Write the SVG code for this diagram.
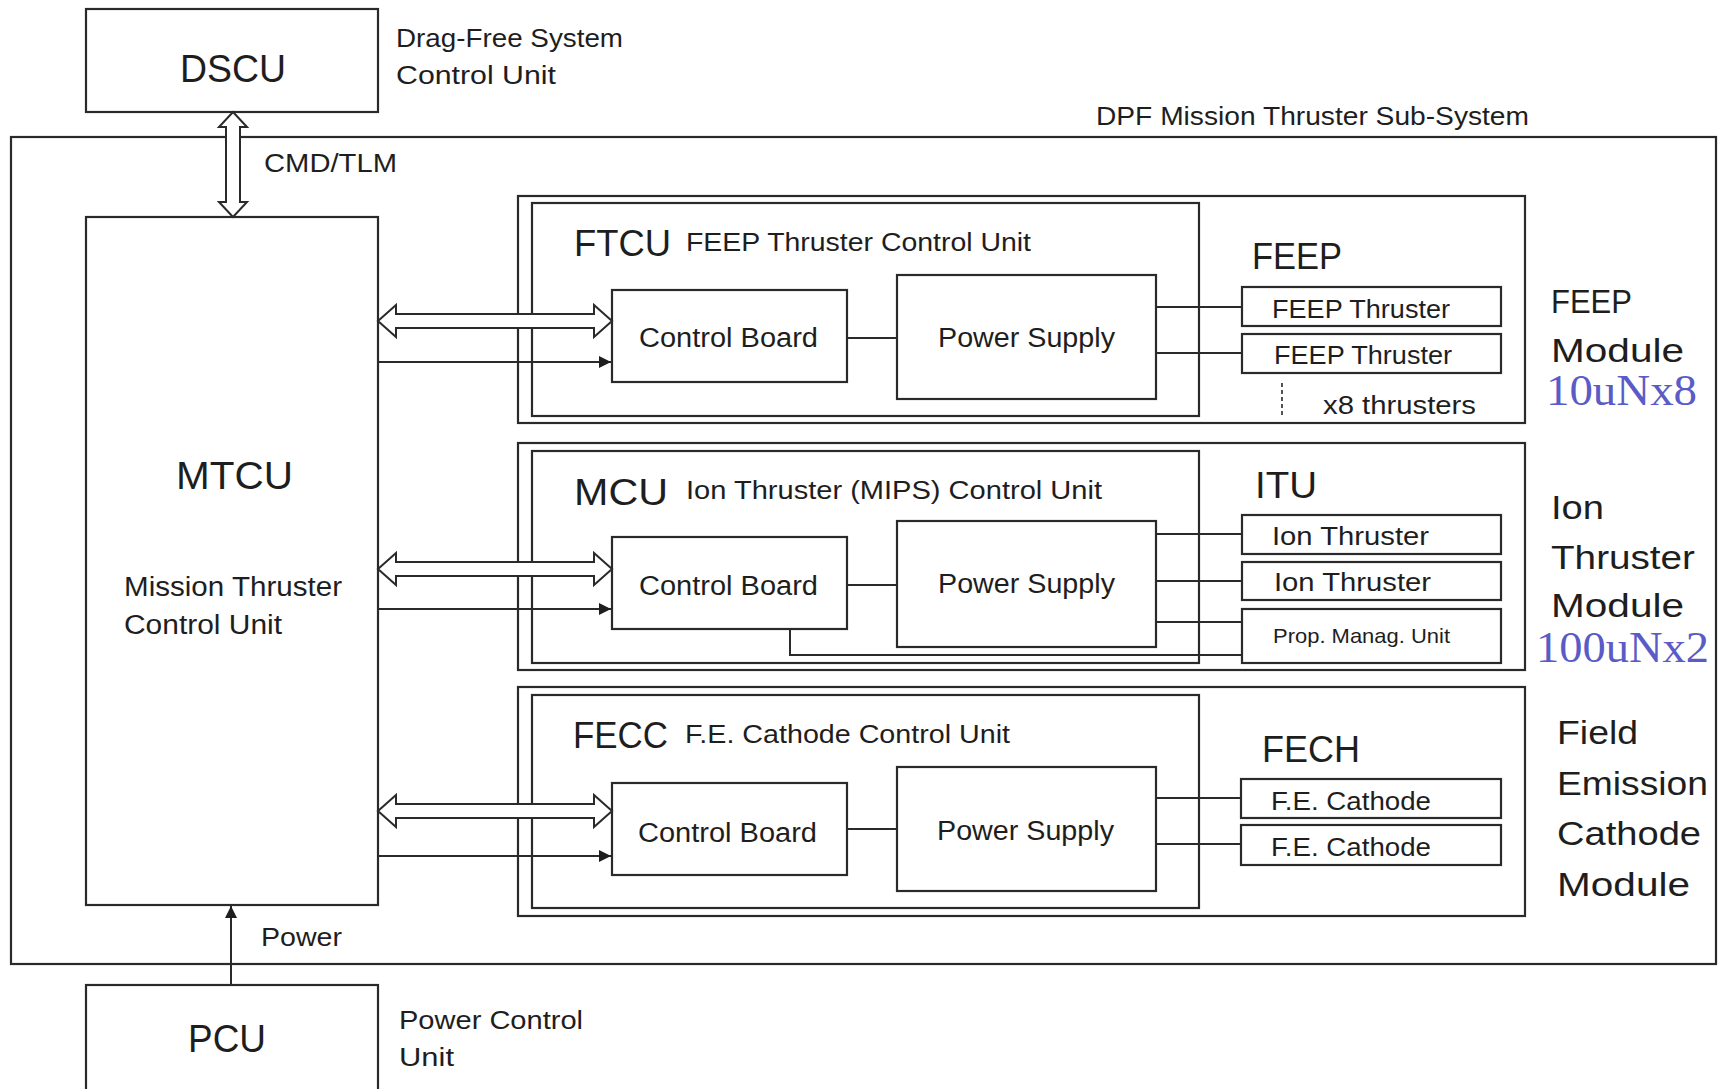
<svg xmlns="http://www.w3.org/2000/svg" width="1725" height="1089" viewBox="0 0 1725 1089">
<defs>
<style>
.b{fill:#fff;stroke:#2a2a2a;stroke-width:2.2}
.f{fill:none;stroke:#2a2a2a;stroke-width:2.2}
.l{fill:none;stroke:#2a2a2a;stroke-width:2}
.h{fill:#fff;stroke:#2a2a2a;stroke-width:2}
.t{font-family:"Liberation Sans",Arial,sans-serif;fill:#1e1e1e}
.s{font-size:26px}
.m{font-size:27px}
.k{font-size:36px}
.g{font-size:38px}
.r{font-size:34px}
.u{font-family:"Liberation Serif","Times New Roman",serif;fill:#5b5bc8;font-size:44px}
</style>
<marker id="ah" viewBox="0 0 12 12" refX="12" refY="6" markerWidth="12" markerHeight="12" markerUnits="userSpaceOnUse" orient="auto">
<path d="M0,0 L12,6 L0,12 Z" fill="#1e1e1e"/>
</marker>
</defs>
<rect width="1725" height="1089" fill="#fff"/>

<g id="frame">
<rect class="f" x="11" y="137" width="1705" height="827"/>
<text class="t s" x="1096" y="125" textLength="433" lengthAdjust="spacingAndGlyphs">DPF Mission Thruster Sub-System</text>
</g>

<g id="dscu">
<rect class="b" x="86" y="9" width="292" height="103"/>
<text class="t g" x="180" y="82" textLength="106" lengthAdjust="spacingAndGlyphs">DSCU</text>
<text class="t s" x="396" y="47" textLength="227" lengthAdjust="spacingAndGlyphs">Drag-Free System</text>
<text class="t s" x="396" y="84" textLength="160" lengthAdjust="spacingAndGlyphs">Control Unit</text>
</g>

<g id="mtcu">
<rect class="b" x="86" y="217" width="292" height="688"/>
<text class="t g" x="176" y="489" textLength="117" lengthAdjust="spacingAndGlyphs">MTCU</text>
<text class="t m" x="124" y="596" textLength="218" lengthAdjust="spacingAndGlyphs">Mission Thruster</text>
<text class="t m" x="124" y="634" textLength="158" lengthAdjust="spacingAndGlyphs">Control Unit</text>
</g>

<g id="pcu">
<rect class="b" x="86" y="985" width="292" height="120"/>
<text class="t g" x="188" y="1052" textLength="78" lengthAdjust="spacingAndGlyphs">PCU</text>
<text class="t s" x="399" y="1029" textLength="184" lengthAdjust="spacingAndGlyphs">Power Control</text>
<text class="t s" x="399" y="1066" textLength="55" lengthAdjust="spacingAndGlyphs">Unit</text>
</g>

<!-- FEEP module -->
<g id="feep-module">
<rect class="b" x="518" y="196" width="1007" height="227"/>
<text class="t r" x="1551" y="313" textLength="81" lengthAdjust="spacingAndGlyphs">FEEP</text>
<text class="t r" x="1551" y="362" textLength="133" lengthAdjust="spacingAndGlyphs">Module</text>
<text class="u" x="1546" y="405" textLength="151" lengthAdjust="spacingAndGlyphs">10uNx8</text>
</g>
<g id="ftcu">
<rect class="f" x="532" y="203" width="667" height="213"/>
<text class="t k" x="574" y="256" textLength="97" lengthAdjust="spacingAndGlyphs">FTCU</text>
<text class="t" style="font-size:25px" x="686" y="251" textLength="345" lengthAdjust="spacingAndGlyphs">FEEP Thruster Control Unit</text>
</g>
<g id="ftcu-cb">
<rect class="b" x="612" y="290" width="235" height="92"/>
<text class="t m" x="639" y="347" textLength="179" lengthAdjust="spacingAndGlyphs">Control Board</text>
</g>
<g id="ftcu-ps">
<rect class="b" x="897" y="275" width="259" height="124"/>
<text class="t m" x="938" y="347" textLength="177" lengthAdjust="spacingAndGlyphs">Power Supply</text>
</g>
<g id="feep">
<text class="t" style="font-size:37px" x="1252" y="269" textLength="90" lengthAdjust="spacingAndGlyphs">FEEP</text>
</g>
<g id="feep-t1">
<rect class="b" x="1242" y="287" width="259" height="39"/>
<text class="t s" x="1272" y="318" textLength="178" lengthAdjust="spacingAndGlyphs">FEEP Thruster</text>
</g>
<g id="feep-t2">
<rect class="b" x="1242" y="334" width="259" height="39"/>
<text class="t s" x="1274" y="364" textLength="178" lengthAdjust="spacingAndGlyphs">FEEP Thruster</text>
</g>
<g id="feep-x8">
<line x1="1282" y1="383" x2="1282" y2="415" stroke="#2a2a2a" stroke-width="1.6" stroke-dasharray="4 3"/>
<text class="t" style="font-size:25px" x="1323" y="414" textLength="153" lengthAdjust="spacingAndGlyphs">x8 thrusters</text>
</g>

<!-- Ion module -->
<g id="ion-module">
<rect class="b" x="518" y="443" width="1007" height="227"/>
<text class="t r" x="1551" y="519" textLength="53" lengthAdjust="spacingAndGlyphs">Ion</text>
<text class="t r" x="1551" y="569" textLength="144" lengthAdjust="spacingAndGlyphs">Thruster</text>
<text class="t r" x="1551" y="617" textLength="133" lengthAdjust="spacingAndGlyphs">Module</text>
<text class="u" x="1536" y="662" textLength="173" lengthAdjust="spacingAndGlyphs">100uNx2</text>
</g>
<g id="mcu">
<rect class="f" x="532" y="451" width="667" height="212"/>
<text class="t k" x="574" y="505" textLength="94" lengthAdjust="spacingAndGlyphs">MCU</text>
<text class="t" style="font-size:25px" x="686" y="499" textLength="416" lengthAdjust="spacingAndGlyphs">Ion Thruster (MIPS) Control Unit</text>
</g>
<g id="mcu-cb">
<rect class="b" x="612" y="537" width="235" height="92"/>
<text class="t m" x="639" y="595" textLength="179" lengthAdjust="spacingAndGlyphs">Control Board</text>
</g>
<g id="mcu-ps">
<rect class="b" x="897" y="521" width="259" height="126"/>
<text class="t m" x="938" y="593" textLength="177" lengthAdjust="spacingAndGlyphs">Power Supply</text>
</g>
<g id="itu">
<text class="t" style="font-size:37px" x="1255" y="498" textLength="62" lengthAdjust="spacingAndGlyphs">ITU</text>
</g>
<g id="ion-t1">
<rect class="b" x="1242" y="515" width="259" height="39"/>
<text class="t s" x="1272" y="545" textLength="157" lengthAdjust="spacingAndGlyphs">Ion Thruster</text>
</g>
<g id="ion-t2">
<rect class="b" x="1242" y="562" width="259" height="38"/>
<text class="t s" x="1274" y="591" textLength="157" lengthAdjust="spacingAndGlyphs">Ion Thruster</text>
</g>
<g id="pmu">
<rect class="b" x="1242" y="609" width="259" height="54"/>
<text class="t" style="font-size:21px" x="1273" y="643" textLength="177" lengthAdjust="spacingAndGlyphs">Prop. Manag. Unit</text>
</g>

<!-- FECC module -->
<g id="fec-module">
<rect class="b" x="518" y="687" width="1007" height="229"/>
<text class="t r" x="1557" y="744" textLength="81" lengthAdjust="spacingAndGlyphs">Field</text>
<text class="t r" x="1557" y="795" textLength="151" lengthAdjust="spacingAndGlyphs">Emission</text>
<text class="t r" x="1557" y="845" textLength="144" lengthAdjust="spacingAndGlyphs">Cathode</text>
<text class="t r" x="1557" y="896" textLength="133" lengthAdjust="spacingAndGlyphs">Module</text>
</g>
<g id="fecc">
<rect class="f" x="532" y="695" width="667" height="213"/>
<text class="t k" x="573" y="748" textLength="95" lengthAdjust="spacingAndGlyphs">FECC</text>
<text class="t" style="font-size:25px" x="685" y="743" textLength="325" lengthAdjust="spacingAndGlyphs">F.E. Cathode Control Unit</text>
</g>
<g id="fecc-cb">
<rect class="b" x="612" y="783" width="235" height="92"/>
<text class="t m" x="638" y="842" textLength="179" lengthAdjust="spacingAndGlyphs">Control Board</text>
</g>
<g id="fecc-ps">
<rect class="b" x="897" y="767" width="259" height="124"/>
<text class="t m" x="937" y="840" textLength="177" lengthAdjust="spacingAndGlyphs">Power Supply</text>
</g>
<g id="fech">
<text class="t" style="font-size:37px" x="1262" y="762" textLength="98" lengthAdjust="spacingAndGlyphs">FECH</text>
</g>
<g id="fech-c1">
<rect class="b" x="1241" y="779" width="260" height="39"/>
<text class="t s" x="1271" y="810" textLength="160" lengthAdjust="spacingAndGlyphs">F.E. Cathode</text>
</g>
<g id="fech-c2">
<rect class="b" x="1241" y="825" width="260" height="40"/>
<text class="t s" x="1271" y="856" textLength="160" lengthAdjust="spacingAndGlyphs">F.E. Cathode</text>
</g>

<g id="connectors">
<!-- CMD/TLM vertical hollow double arrow -->
<path class="h" d="M233,112 L247,127 L240,127 L240,202 L247,202 L233,217 L219,202 L226,202 L226,127 L219,127 Z"/>
<text class="t s" x="264" y="172" textLength="133" lengthAdjust="spacingAndGlyphs">CMD/TLM</text>
<!-- Power arrow -->
<line class="l" x1="231" y1="985" x2="231" y2="906" marker-end="url(#ah)"/>
<text class="t s" x="261" y="946" textLength="81" lengthAdjust="spacingAndGlyphs">Power</text>

<!-- FEEP links -->
<path class="h" d="M378,321 L396,305 L396,314 L594,314 L594,305 L612,321 L594,337 L594,328 L396,328 L396,337 Z"/>
<line class="l" x1="378" y1="362" x2="611" y2="362" marker-end="url(#ah)"/>
<line class="l" x1="847" y1="338" x2="897" y2="338"/>
<line class="l" x1="1156" y1="307" x2="1242" y2="307"/>
<line class="l" x1="1156" y1="353" x2="1242" y2="353"/>

<!-- Ion links -->
<path class="h" d="M378,569 L396,553 L396,562 L594,562 L594,553 L612,569 L594,585 L594,576 L396,576 L396,585 Z"/>
<line class="l" x1="378" y1="609" x2="611" y2="609" marker-end="url(#ah)"/>
<line class="l" x1="847" y1="585" x2="897" y2="585"/>
<line class="l" x1="1156" y1="534" x2="1242" y2="534"/>
<line class="l" x1="1156" y1="581" x2="1242" y2="581"/>
<line class="l" x1="1156" y1="622" x2="1242" y2="622"/>
<polyline class="l" points="790,629 790,655 1242,655"/>

<!-- FECC links -->
<path class="h" d="M378,811 L396,795 L396,804 L594,804 L594,795 L612,811 L594,827 L594,818 L396,818 L396,827 Z"/>
<line class="l" x1="378" y1="856" x2="611" y2="856" marker-end="url(#ah)"/>
<line class="l" x1="847" y1="829" x2="897" y2="829"/>
<line class="l" x1="1156" y1="798" x2="1241" y2="798"/>
<line class="l" x1="1156" y1="844" x2="1241" y2="844"/>
</g>
</svg>
